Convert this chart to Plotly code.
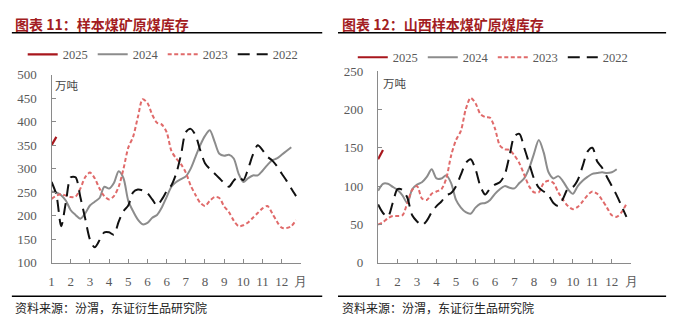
import plotly.graph_objects as go

W, H = 680, 332

# ---------------- data ----------------
tick_weeks = [1, 5, 9, 13, 17, 21, 25, 29, 33, 37, 41, 45, 49, 53]
tick_text = ["1", "2", "3", "4", "5", "6", "6", "7", "8", "9", "10", "11", "12", "月"]
series_names = ["2025", "2024", "2023", "2022"]

# 图表11 样本煤矿原煤库存 (万吨), weekly
left_2025 = [350, 368]
left_2024 = [252, 250, 244, 232, 212, 202, 194, 205, 222, 230, 238, 262, 258, 270, 295, 280,
             232, 210, 192, 182, 185, 196, 202, 218, 240, 262, 272, 278, 284, 300, 325, 350,
             370, 382, 358, 332, 328, 330, 322, 290, 272, 280, 286, 286, 296, 308, 318, 322,
             330, 338, 346]
left_2023 = [236, 243, 246, 243, 240, 241, 258, 282, 292, 280, 258, 242, 235, 242, 262, 300,
             345, 368, 410, 448, 440, 415, 398, 394, 378, 338, 322, 310, 292, 265, 245, 228,
             221, 232, 240, 238, 220, 208, 190, 178, 180, 186, 196, 206, 216, 221, 206, 188,
             175, 174, 178, 191]
left_2022 = [272, 245, 178, 230, 282, 282, 240, 195, 150, 133, 148, 165, 165, 160, 188, 210,
             222, 250, 256, 254, 248, 235, 222, 235, 252, 265, 290, 330, 378, 385, 372, 340,
             312, 300, 290, 280, 270, 262, 275, 284, 276, 300, 330, 350, 340, 326, 318, 306,
             290, 275, 258, 242]

# 图表12 山西样本煤矿原煤库存 (万吨), weekly
right_2025 = [135, 147]
right_2024 = [94, 103, 103, 99, 95, 88, 78, 96, 102, 105, 112, 122, 110, 110, 114, 104,
              82, 72, 66, 64, 72, 77, 78, 82, 90, 96, 100, 98, 97, 104, 110, 123,
              142, 160, 144, 118, 110, 113, 106, 96, 90, 100, 107, 112, 116, 117, 118, 117,
              118, 122]
right_2023 = [50, 53, 58, 61, 61, 62, 78, 95, 100, 84, 82, 90, 93, 96, 110, 140,
              160, 172, 200, 215, 208, 194, 190, 189, 175, 153, 148, 147, 140, 130, 115, 100,
              92, 92, 104, 107, 104, 92, 82, 74, 70, 73, 80, 88, 93, 90, 82, 72,
              62, 60, 66, 77]
right_2022 = [76, 65, 60, 78, 96, 95, 85, 62, 54, 49, 55, 66, 74, 80, 88, 91,
              100, 115, 130, 135, 122, 100, 89, 97, 102, 105, 115, 140, 165, 168, 150, 130,
              110, 98, 93, 88, 78, 74, 84, 97, 99, 108, 126, 145, 150, 132, 124, 112,
              100, 88, 74, 60]

titles = ["图表 11：样本煤矿原煤库存", "图表 12：山西样本煤矿原煤库存"]
unit = "万吨"
source = "资料来源：汾渭，东证衍生品研究院"

# ---------------- styles ----------------
styles = {
    "2025": dict(color="#a8161c", width=2.2, dash="solid"),
    "2024": dict(color="#8c8c8c", width=2, dash="solid"),
    "2023": dict(color="#e06a6a", width=2, dash="4px,2.5px"),
    "2022": dict(color="#111111", width=2, dash="12px,7px"),
}

def px2x(px):
    return px / W

def px2y(py):
    return 1 - py / H

fig = go.Figure()

panels = [
    dict(data=[left_2025, left_2024, left_2023, left_2022], xa="x", ya="y", lg="legend"),
    dict(data=[right_2025, right_2024, right_2023, right_2022], xa="x2", ya="y2", lg="legend2"),
]
for p in panels:
    for name, vals in zip(series_names, p["data"]):
        st = styles[name]
        fig.add_trace(go.Scatter(
            x=list(range(1, len(vals) + 1)), y=vals, name=name, mode="lines",
            line=dict(color=st["color"], width=st["width"], dash=st["dash"],
                      shape="spline", smoothing=0.8),
            xaxis=p["xa"], yaxis=p["ya"], legend=p["lg"], hoverinfo="skip",
        ))

tickfont = dict(family="Liberation Serif", size=13, color="#595959")
axis_common = dict(showgrid=False, zeroline=False, showline=True, linecolor="#8a8a8a",
                   linewidth=1.3, ticks="inside", ticklen=4, tickcolor="#8a8a8a",
                   tickwidth=1, tickfont=tickfont)

xcommon = dict(axis_common, range=[1, 53], tickmode="array", tickvals=tick_weeks,
               ticktext=tick_text, ticklabelstandoff=6)

legend_common = dict(orientation="h", xanchor="left", yanchor="middle",
                     font=dict(family="Liberation Serif", size=12.5, color="#595959"),
                     bgcolor="rgba(0,0,0,0)", itemwidth=30, entrywidth=25, tracegroupgap=0)

fig.update_layout(
    width=W, height=H, margin=dict(l=0, r=0, t=0, b=0),
    paper_bgcolor="white", plot_bgcolor="white", showlegend=True,
    xaxis=dict(xcommon, domain=[px2x(49.3), px2x(302.3)], anchor="y"),
    yaxis=dict(axis_common, domain=[px2y(268), px2y(71)], range=[100, 500],
               tickvals=[100, 150, 200, 250, 300, 350, 400, 450, 500], anchor="x",
               ticklabelstandoff=11),
    xaxis2=dict(xcommon, domain=[px2x(380.7), px2x(637.7)], anchor="y2"),
    yaxis2=dict(axis_common, domain=[px2y(268), px2y(67)], range=[0, 250],
                tickvals=[0, 50, 100, 150, 200, 250], anchor="x2",
                ticklabelstandoff=11),
    legend=dict(legend_common, x=px2x(20), y=px2y(50)),
    legend2=dict(legend_common, x=px2x(355), y=px2y(53)),
)

# rules
shapes = []
for x0, x1 in [(9, 324), (340, 673)]:
    shapes.append(dict(type="line", xref="paper", yref="paper", x0=px2x(x0), x1=px2x(x1),
                       y0=px2y(27), y1=px2y(27), line=dict(color="#000000", width=1.6)))
    shapes.append(dict(type="line", xref="paper", yref="paper", x0=px2x(x0), x1=px2x(x1),
                       y0=px2y(303), y1=px2y(303), line=dict(color="#000000", width=1.6)))
fig.update_layout(shapes=shapes)

anns = []
for tx, x0 in zip(titles, [10, 342]):
    anns.append(dict(text="<b>" + tx + "</b>", xref="paper", yref="paper", x=px2x(x0), y=px2y(18),
                     xanchor="left", yanchor="middle", showarrow=False,
                     font=dict(family="Noto Sans CJK SC", size=14, color="#a31d22")))
for x0 in [10, 342]:
    anns.append(dict(text=source, xref="paper", yref="paper", x=px2x(x0), y=px2y(315),
                     xanchor="left", yanchor="middle", showarrow=False,
                     font=dict(family="Noto Sans CJK SC", size=12, color="#222222")))
for x0, y0 in [(51, 82), (384, 80)]:
    anns.append(dict(text=unit, xref="paper", yref="paper", x=px2x(x0), y=px2y(y0),
                     xanchor="left", yanchor="middle", showarrow=False,
                     font=dict(family="Noto Sans CJK SC", size=11.5, color="#444444")))
fig.update_layout(annotations=anns)

fig.write_html("out.html")
